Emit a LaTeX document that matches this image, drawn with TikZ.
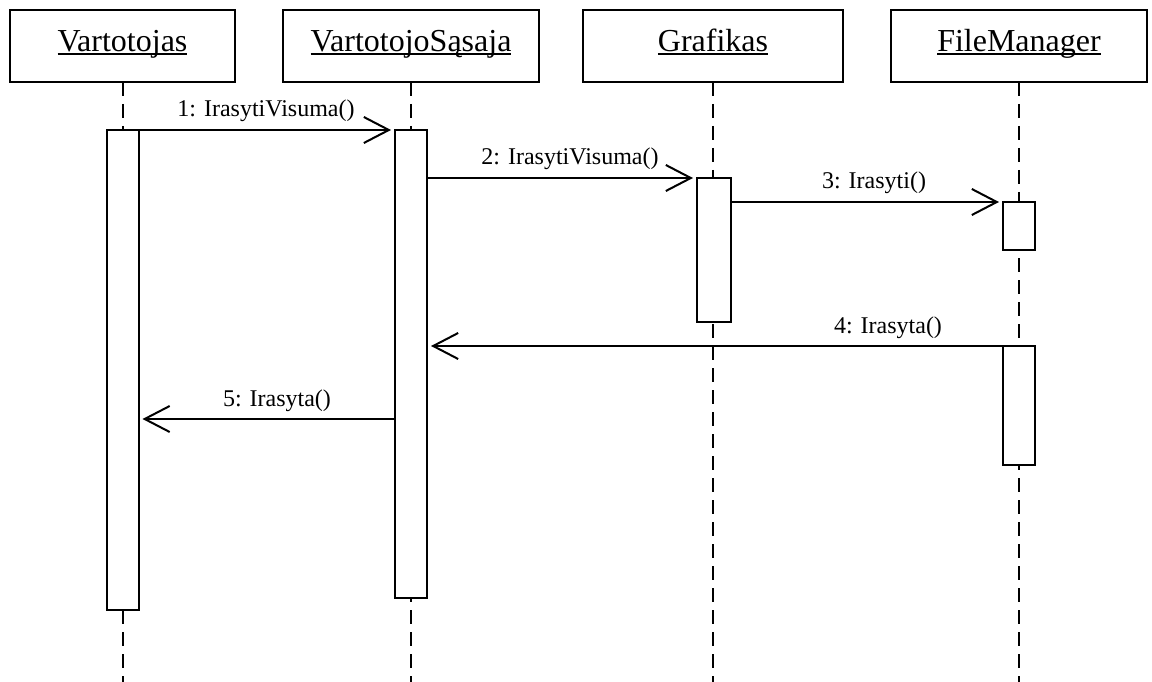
\documentclass[tikz,border=0pt]{standalone}
\usepackage{fontspec}
\setmainfont{Liberation Serif}
\usetikzlibrary{arrows.meta}

% underlined object name with a rule at a fixed depth
\newcommand\objname[1]{\setbox0=\hbox{#1}\rlap{\rule[-3pt]{\wd0}{1.8pt}}\box0}

\tikzset{
  objbox/.style={draw, line width=2pt, minimum height=72pt, inner sep=0pt, outer sep=0pt},
  objtext/.style={anchor=base, inner sep=0pt, font=\fontsize{32}{38}\selectfont},
  lifeline/.style={line width=2pt, dash pattern=on 14pt off 8pt},
  actbox/.style={draw, fill=white, line width=2pt, minimum width=32pt, inner sep=0pt, outer sep=0pt, anchor=north},
  msg/.style={line width=2pt, shorten >=4pt, -{Straight Barb[length=25pt,width=26pt,line width=2pt]}},
  msgtext/.style={anchor=base, inner sep=0pt, font=\fontsize{24}{28}\selectfont}
}

\begin{document}
\begin{tikzpicture}[x=1pt, y=-1pt]
  \useasboundingbox (0,0) rectangle (1152,682);
  \fill[white] (0,0) rectangle (1152,682);

  % object heads
  \node[objbox, minimum width=225pt] (o1) at (122.5,46) {};
  \node[objbox, minimum width=256pt] (o2) at (411,46) {};
  \node[objbox, minimum width=260pt] (o3) at (713,46) {};
  \node[objbox, minimum width=256pt] (o4) at (1019,46) {};
  \node[objtext] (t1) at (122.5,52) {\objname{Vartotojas}};
  \node[objtext] (t2) at (411,52) {\objname{VartotojoSąsaja}};
  \node[objtext] (t3) at (713,52) {\objname{Grafikas}};
  \node[objtext] (t4) at (1019,52) {\objname{FileManager}};

  % lifeline ends
  \coordinate (e1) at (122.5,682);
  \coordinate (e2) at (411,682);
  \coordinate (e3) at (713,682);
  \coordinate (e4) at (1019,682);
  \draw[lifeline] (o1.south) -- (e1);
  \draw[lifeline] (o2.south) -- (e2);
  \draw[lifeline] (o3.south) -- (e3);
  \draw[lifeline] (o4.south) -- (e4);

  % activations
  \node[actbox, minimum height=480pt] (a1) at (122.5,130) {};
  \node[actbox, minimum height=468pt] (a2) at (411,130) {};
  \node[actbox, minimum height=144pt, minimum width=34pt] (a3) at (714,178) {};
  \node[actbox, minimum height=48pt] (a4) at (1019,202) {};
  \node[actbox, minimum height=119pt] (a5) at (1019,346) {};
  \coordinate (m5) at (0,419);

  % messages
  \draw[msg] (a1.north east) -- (a2.north west);
  \draw[msg] (a2.east |- a3.north) -- (a3.north west);
  \draw[msg] (a3.east |- a4.north) -- (a4.north west);
  \draw[msg] (a5.north west) -- (a2.east |- a5.north);
  \draw[msg] (a2.west |- m5) -- (a1.east |- m5);

  % message labels
  \node[msgtext] (l1) at (266,117) {1: IrasytiVisuma()};
  \node[msgtext] (l2) at (570,165) {2: IrasytiVisuma()};
  \node[msgtext] (l3) at (874,189) {3: Irasyti()};
  \node[msgtext] (l4) at (888,333) {4: Irasyta()};
  \node[msgtext] (l5) at (277,406) {5: Irasyta()};
\end{tikzpicture}
\end{document}
